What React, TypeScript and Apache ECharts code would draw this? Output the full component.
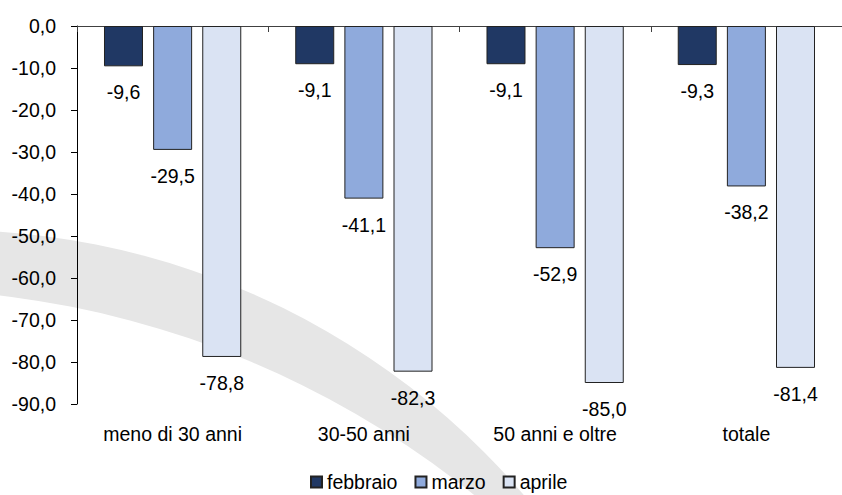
import React, { useEffect, useRef } from "react";
import * as echarts from "echarts";

const categories = ["meno di 30 anni", "30-50 anni", "50 anni e oltre", "totale"];
const febbraio = [-9.6, -9.1, -9.1, -9.3];
const marzo = [-29.5, -41.1, -52.9, -38.2];
const aprile = [-78.8, -82.3, -85.0, -81.4];
const seriesNames = ["febbraio", "marzo", "aprile"];
const seriesColors = ["#203864", "#8FAADC", "#DAE3F3"];

const FONT = "'Liberation Sans', Arial, sans-serif";
const FS = 19.5;

const fmt = (v: number) => v.toFixed(1).replace(".", ",");

export default function App() {
  const ref = useRef<HTMLDivElement>(null);
  useEffect(() => {
    if (!ref.current) return;
    const chart = echarts.init(ref.current, null, { renderer: "svg" });
    const values = [febbraio, marzo, aprile];
    chart.setOption({
      animation: false,
      backgroundColor: "#ffffff",
      textStyle: { fontFamily: FONT },
      graphic: [
        {
          type: "circle",
          silent: true,
          z: -10,
          shape: { cx: -52, cy: 988, r: 758 },
          style: { fill: "#e6e6e6" },
        },
        {
          type: "circle",
          silent: true,
          z: -9,
          shape: { cx: -110, cy: 1220, r: 931 },
          style: { fill: "#ffffff" },
        },
      ],
      grid: { left: 77, top: 26, bottom: 91, width: 776, containLabel: false },
      legend: {
        left: 305,
        top: 467,
        icon: "rect",
        itemWidth: 11,
        itemHeight: 11,
        itemGap: 17,
        textStyle: { fontFamily: FONT, fontSize: FS, color: "#000" },
        data: seriesNames,
      },
      xAxis: [
        {
          type: "category",
          data: categories,
          position: "top",
          axisLine: { show: true, onZero: true, lineStyle: { color: "#404040", width: 1 } },
          axisTick: { show: true, inside: true, length: 6, lineStyle: { color: "#404040" } },
          axisLabel: { show: false },
          splitLine: { show: false },
        },
        {
          type: "category",
          data: categories,
          position: "bottom",
          axisLine: { show: false, onZero: false },
          axisTick: { show: false },
          axisLabel: { show: true, margin: 20, fontFamily: FONT, fontSize: FS, color: "#000" },
          splitLine: { show: false },
        },
      ],
      yAxis: {
        type: "value",
        min: -90,
        max: 0,
        interval: 10,
        axisLine: { show: true, lineStyle: { color: "#000", width: 1 } },
        axisTick: { show: true, length: 6, lineStyle: { color: "#000" } },
        axisLabel: {
          margin: 21,
          fontFamily: FONT,
          fontSize: FS,
          color: "#000",
          formatter: (v: number) => fmt(v),
        },
        splitLine: { show: false },
      },
      series: seriesNames.map((name, i) => ({
        name,
        type: "bar",
        xAxisIndex: 0,
        data: values[i],
        barWidth: 39,
        barGap: "26%",
        itemStyle: { color: seriesColors[i], borderColor: "#222", borderWidth: 1 },
        label: {
          show: true,
          position: "bottom",
          distance: 16,
          fontFamily: FONT,
          fontSize: FS,
          color: "#000",
          formatter: (p: any) => fmt(p.value),
        },
      })),
    });
    return () => chart.dispose();
  }, []);
  return (
    <div
      ref={ref}
      style={{ position: "fixed", left: 0, top: 0, width: 842, height: 495 }}
    />
  );
}
